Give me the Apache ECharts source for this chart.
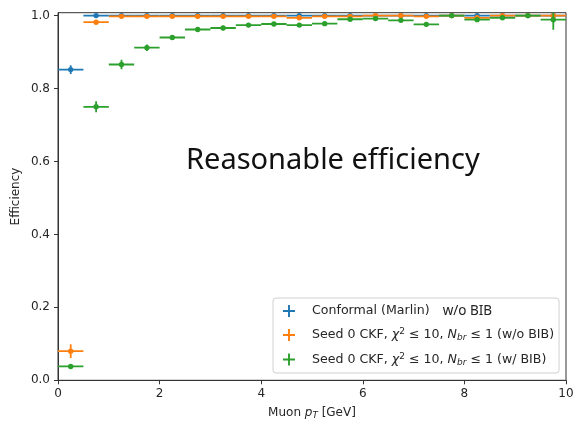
<!DOCTYPE html>
<html>
<head>
<meta charset="utf-8">
<script src="https://cdn.jsdelivr.net/npm/echarts@6/dist/echarts.min.js"></script>
<style>html,body{margin:0;padding:0;background:#fff}#c{width:574px;height:422px}</style>
</head>
<body>
<div id="c"></div>
<script>
// Bin centers (Muon pT, GeV), bin half width 0.25
const binCenters = [0.25,0.75,1.25,1.75,2.25,2.75,3.25,3.75,4.25,4.75,5.25,5.75,6.25,6.75,7.25,7.75,8.25,8.75,9.25,9.75];
const binHalfWidth = 0.25;

// Conformal (Marlin) w/o BIB
const conformalEff = [0.852,1.0,1.0,1.0,1.0,1.0,1.0,1.0,1.0,1.0,1.0,1.0,1.0,1.0,1.0,1.0,1.0,1.0,1.0,1.0];
const conformalErr = [0.012,0.002,0.001,0.001,0.001,0.001,0.001,0.001,0.001,0.001,0.001,0.001,0.001,0.001,0.001,0.001,0.001,0.001,0.001,0.001];

// Seed 0 CKF w/o BIB
const ckfNoBibEff = [0.080,0.982,0.998,0.998,0.998,0.998,0.998,0.998,0.998,0.994,0.998,0.998,1.0,1.0,0.998,1.0,0.994,1.0,1.0,1.0];
const ckfNoBibErr = [0.019,0.004,0.002,0.002,0.002,0.002,0.002,0.002,0.002,0.003,0.002,0.002,0.001,0.001,0.002,0.001,0.003,0.001,0.001,0.001];

// Seed 0 CKF w/ BIB
const ckfBibEff = [0.038,0.750,0.866,0.912,0.940,0.962,0.966,0.974,0.977,0.974,0.978,0.990,0.992,0.987,0.976,1.0,0.989,0.994,1.0,0.989];
const ckfBibErr = [0.005,0.015,0.013,0.009,0.007,0.006,0.006,0.005,0.005,0.005,0.005,0.004,0.004,0.004,0.005,0.002,0.004,0.004,0.003,0.028];

const yTicks = [0,0.2,0.4,0.6,0.8,1.0];
const xTicks = [0,2,4,6,8,10];

const seriesNames = ['Conformal (Marlin)','Seed 0 CKF (w/o BIB)','Seed 0 CKF (w/ BIB)'];
const colors = ['#1f77b4','#ff7f0e','#2ca02c'];

function makeData(vals, errs){
  return binCenters.map((x,i)=>[x, vals[i], errs[i]]);
}

function renderErr(params, api){
  const x = api.value(0), y = api.value(1), e = api.value(2);
  const color = api.visual('color');
  const l = api.coord([x-binHalfWidth, y]);
  const r = api.coord([x+binHalfWidth, y]);
  const lo = api.coord([x, y-e]);
  const hi = api.coord([x, y+e]);
  const c = api.coord([x, y]);
  const cs = params.coordSys;
  return {
    type:'group',
    clipPath:{type:'rect', shape:{x:cs.x, y:cs.y, width:cs.width, height:cs.height}},
    children:[
      {type:'line', shape:{x1:l[0],y1:l[1],x2:r[0],y2:r[1]}, style:{stroke:color, lineWidth:1.8}},
      {type:'line', shape:{x1:lo[0],y1:lo[1],x2:hi[0],y2:hi[1]}, style:{stroke:color, lineWidth:1.8}},
      {type:'circle', shape:{cx:c[0],cy:c[1],r:2.7}, style:{fill:color}}
    ]
  };
}

const plusIcon = 'path://M4.2,0H5.8V4.2H10V5.8H5.8V10H4.2V5.8H0V4.2H4.2Z';
const baseFont = 'DejaVu Sans';
const fs = 12;
const lfs = 12.6;

const chart = echarts.init(document.getElementById('c'), null, {renderer:'canvas'});
chart.setOption({
  animation:false,
  backgroundColor:'#fff',
  grid:{left:58, right:8, top:12.7, bottom:41.7, show:true, borderColor:'#333', borderWidth:1,
        containLabel:false, outerBoundsMode:'none'},
  xAxis:{
    type:'value', min:0, max:10, interval:2,
    name:'Muon {i|p}{sub|T} [GeV]',
    nameLocation:'middle', nameGap:25, nameMoveOverlap:false,
    nameTextStyle:{fontFamily:baseFont, fontSize:fs, color:'#262626',
      rich:{i:{fontFamily:baseFont, fontStyle:'italic', fontSize:fs, color:'#262626'},
            sub:{fontFamily:baseFont, fontStyle:'italic', fontSize:8.8, color:'#262626', verticalAlign:'bottom', padding:[6,0,0,0]}}},
    axisLine:{show:true, lineStyle:{color:'#333', width:1}},
    axisTick:{show:true, inside:false, length:4, lineStyle:{color:'#333'}, customValues:xTicks},
    axisLabel:{fontFamily:baseFont, fontSize:fs, color:'#262626', margin:8, customValues:xTicks},
    splitLine:{show:false}
  },
  yAxis:{
    type:'value', min:0, max:1.008,
    name:'Efficiency', nameLocation:'middle', nameGap:36, nameMoveOverlap:false,
    nameTextStyle:{fontFamily:baseFont, fontSize:fs, color:'#262626'},
    axisLine:{show:true, lineStyle:{color:'#333', width:1}},
    axisTick:{show:true, inside:false, length:4, lineStyle:{color:'#333'}, customValues:yTicks},
    axisLabel:{fontFamily:baseFont, fontSize:fs, color:'#262626', margin:8, customValues:yTicks,
      formatter:v=>v.toFixed(1)},
    splitLine:{show:false}
  },
  legend:{
    orient:'vertical', left:273, top:298,
    data:seriesNames,
    icon:plusIcon, itemWidth:12, itemHeight:12, itemGap:9.5,
    padding:[6,5,6,10],
    borderColor:'#d0d0d0', borderWidth:1, borderRadius:3, backgroundColor:'rgba(255,255,255,0.85)',
    textStyle:{fontFamily:baseFont, fontSize:lfs, color:'#262626', padding:[0,0,0,12],
      rich:{
        n:{fontFamily:baseFont, fontSize:lfs, color:'#262626'},
        i:{fontFamily:baseFont, fontStyle:'italic', fontSize:lfs, color:'#262626'},
        sup:{fontFamily:baseFont, fontSize:9, color:'#262626', verticalAlign:'top', padding:[0,0,6,0]},
        sub:{fontFamily:baseFont, fontStyle:'italic', fontSize:9, color:'#262626', verticalAlign:'bottom', padding:[6,0,0,0]},
        w:{fontFamily:'Noto Sans', fontSize:13.5, color:'#222', padding:[0,0,0,13]}
      }},
    formatter:function(name){
      if(name===seriesNames[0]) return '{n|Conformal (Marlin)}{w|w/o BIB}';
      const tail = name===seriesNames[1] ? ' (w/o BIB)' : ' (w/ BIB)';
      return '{n|Seed 0 CKF, }{i|χ}{sup|2}{n| ≤ 10, }{i|N}{sub|br}{n| ≤ 1'+tail+'}';
    }
  },
  graphic:[{
    type:'text', left:186, top:146,
    style:{text:'Reasonable efficiency', fontFamily:'Noto Sans', fontSize:29, fill:'#111'}
  }],
  series:[
    {type:'custom', name:seriesNames[0], renderItem:renderErr, itemStyle:{color:colors[0]}, data:makeData(conformalEff, conformalErr), encode:{x:0,y:1}, z:2},
    {type:'custom', name:seriesNames[1], renderItem:renderErr, itemStyle:{color:colors[1]}, data:makeData(ckfNoBibEff, ckfNoBibErr), encode:{x:0,y:1}, z:3},
    {type:'custom', name:seriesNames[2], renderItem:renderErr, itemStyle:{color:colors[2]}, data:makeData(ckfBibEff, ckfBibErr), encode:{x:0,y:1}, z:4}
  ]
});
</script>
</body>
</html>
